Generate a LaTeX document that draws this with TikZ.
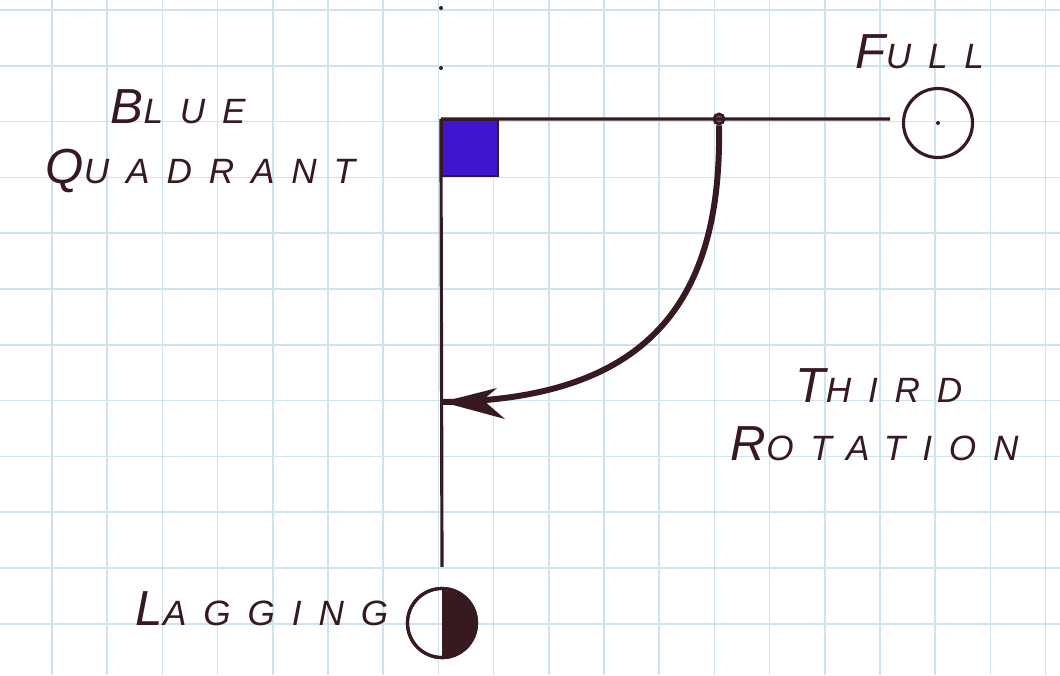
\documentclass[tikz,border=0pt]{standalone}
\usepackage{fontspec}
\usetikzlibrary{arrows.meta}
\newfontfamily\handfont[LetterSpace=48]{Liberation Sans}
\definecolor{ink}{RGB}{55,25,32}
\definecolor{gridblue}{RGB}{205,228,240}
\definecolor{quadblue}{RGB}{62,22,205}
\newcommand{\initcap}[1]{{\fontsize{14}{14}\selectfont #1}}
\begin{document}
\begin{tikzpicture}[x=0.01cm,y=-0.01cm,
  gridline/.style={draw=gridblue,line width=0.45pt},
  inkline/.style={draw=ink,line width=0.9pt},
  inkcurve/.style={draw=ink,line width=1.7pt},
  bluesq/.style={draw=ink,line width=0.6pt,fill=quadblue,minimum size=0.56cm,inner sep=0pt},
  circ/.style={circle,draw=ink,line width=0.9pt,minimum size=0.69cm,inner sep=0pt},
  pivot/.style={circle,draw=ink,fill=ink!70!white,line width=0.8pt,minimum size=0.1cm,inner sep=0pt},
  pen/.style={circle,fill=ink,minimum size=0.04cm,inner sep=0pt},
  lbl/.style={anchor=base west,inner sep=0pt,text=ink,font=\handfont\itshape\fontsize{10}{11}\selectfont}]
\useasboundingbox (0,0) rectangle (1060,675);
\fill[white] (0,0) rectangle (1060,675);
% grid
\foreach \k in {0,...,18} \draw[gridline] ({52+55.2*\k},0) -- ({52+55.2*\k},675);
\foreach \k in {0,...,11} \draw[gridline] (0,{10+55.8*\k}) -- (1060,{10+55.8*\k});
% nodes
\node[bluesq] (sq) at (470,148) {};
\node[circ] (full) at (938,123) {};
\node[pen] (fc) at (938,123) {};
\node[circ] (lag) at (442,623) {};
\fill[ink] (lag.south) arc (-90:90:0.345cm) -- cycle;
\node[circ] at (lag) {};
\node[pivot] (piv) at (719,119) {};
\node[pen] (d1) at (441,8) {};
\node[pen] (d2) at (441,68) {};
\coordinate (hend) at (890,119);
\coordinate (tip) at (442,402);
% lines
\draw[inkline] (sq.north west) -- (hend);
\draw[inkline] (sq.north west) -- ([yshift=0.2cm]lag.north);
\draw[inkcurve] (piv.south) .. controls (722,300) and (650,400) .. (tip);
% arrowhead
\fill[ink] (tip) -- ++(55,-14) -- ++(-14,12) -- ++(22,19) -- cycle;
% labels
\node[lbl] (blue) at (110,123) {\initcap{B}LUE};
\node[lbl] (quad) at (45,183) {\initcap{Q}UADRANT};
\node[lbl] (fulll) at (855,68) {\initcap{F}ULL};
\node[lbl] (third) at (795,402) {\initcap{T}HIRD};
\node[lbl] (rot) at (730,460) {\initcap{R}OTATION};
\node[lbl] (lagl) at (135,625) {\initcap{L}AGGING};
\end{tikzpicture}
\end{document}
